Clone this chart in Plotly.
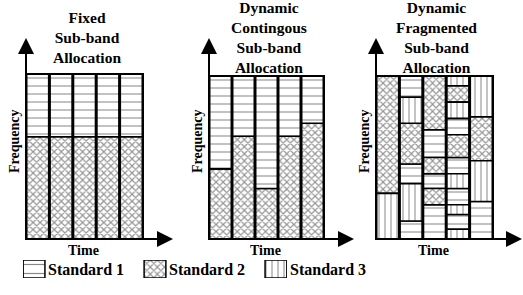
import plotly.graph_objects as go

W, H = 523, 295

# ---------------- data ----------------
time_slots = [1, 2, 3, 4, 5]
standards = ["Standard 1", "Standard 2", "Standard 3"]

# Fixed sub-band allocation (fraction of band, bottom -> top: Std2 then Std1)
fixed_std2 = [0.62, 0.62, 0.62, 0.62, 0.62]
fixed_std1 = [0.38, 0.38, 0.38, 0.38, 0.38]

# Dynamic contiguous allocation (bottom Std2, top Std1)
contig_std2 = [0.43, 0.63, 0.31, 0.63, 0.71]
contig_std1 = [0.57, 0.37, 0.69, 0.37, 0.29]

# Dynamic fragmented allocation: per time slot, standards bottom -> top and bandwidths
frag_t1_std = [3, 2]
frag_t1_bw = [0.28, 0.72]
frag_t2_std = [1, 3, 1, 2, 3, 1]
frag_t2_bw = [0.11, 0.23, 0.12, 0.25, 0.16, 0.13]
frag_t3_std = [1, 2, 1, 2, 1, 2]
frag_t3_bw = [0.21, 0.10, 0.09, 0.10, 0.17, 0.33]
frag_t4_std = [3, 1, 3, 1, 3, 1, 2, 1, 3, 2, 3]
frag_t4_bw = [0.06, 0.09, 0.06, 0.10, 0.09, 0.10, 0.14, 0.10, 0.10, 0.10, 0.06]
frag_t5_std = [1, 3, 2, 3]
frag_t5_bw = [0.23, 0.25, 0.27, 0.25]

panel_titles = ["Fixed<br>Sub-band<br>Allocation",
                "Dynamic<br>Contingous<br>Sub-band<br>Allocation",
                "Dynamic<br>Fragmented<br>Sub-band<br>Allocation"]
x_label = "Time"
y_label = "Frequency"

# ---------------- styles ----------------
FONT = "Times New Roman, Liberation Serif, Tinos, DejaVu Serif, serif"
patterns = {
    1: dict(shape="-", size=8, solidity=0.13, fgcolor="#111111", bgcolor="white"),
    2: dict(shape="x", size=5, solidity=0.42, fgcolor="#2a2a2a", bgcolor="white"),
    3: dict(shape="|", size=6, solidity=0.17, fgcolor="#111111", bgcolor="white"),
}


def px(x):
    return x / W


def py(y):
    return 1 - y / H


def fnt(size):
    return dict(family=FONT, size=size, color="black", weight="bold")


# panel boxes in pixels: (left, right, top, bottom)
boxes = [(26, 143, 74, 239), (209, 324, 76, 239), (376, 493, 76, 239)]

fig = go.Figure()


def add_segments(panel_idx, std, xs, bases, ys):
    ax_s = "" if panel_idx == 0 else str(panel_idx + 1)
    fig.add_trace(go.Bar(
        x=xs, y=ys, base=bases, width=0.94,
        xaxis="x" + ax_s, yaxis="y" + ax_s,
        marker=dict(color="white", pattern=patterns[std],
                    line=dict(color="black", width=1.6)),
        name=standards[std - 1], showlegend=False, hoverinfo="skip",
    ))


# panel 1
add_segments(0, 2, time_slots, [0] * 5, fixed_std2)
add_segments(0, 1, time_slots, fixed_std2, fixed_std1)
# panel 2
add_segments(1, 2, time_slots, [0] * 5, contig_std2)
add_segments(1, 1, time_slots, contig_std2, contig_std1)
# panel 3
frag_std = [frag_t1_std, frag_t2_std, frag_t3_std, frag_t4_std, frag_t5_std]
frag_bw = [frag_t1_bw, frag_t2_bw, frag_t3_bw, frag_t4_bw, frag_t5_bw]
for s in (1, 2, 3):
    xs, bs, ys = [], [], []
    for t, stds, bws in zip(time_slots, frag_std, frag_bw):
        acc = 0.0
        for st, bw in zip(stds, bws):
            if st == s:
                xs.append(t)
                bs.append(acc)
                ys.append(bw)
            acc += bw
    add_segments(2, s, xs, bs, ys)

# legend icons on a small axis
for i, s in enumerate((1, 2, 3)):
    pat = dict(patterns[s])
    if s == 1:
        pat["size"] = 9
    fig.add_trace(go.Bar(
        x=[i], y=[1], base=[0], width=0.18, xaxis="x4", yaxis="y4",
        marker=dict(color="white", pattern=pat, line=dict(color="black", width=1.5)),
        showlegend=False, hoverinfo="skip",
    ))

layout = dict(
    width=W, height=H, margin=dict(l=0, r=0, t=0, b=0),
    paper_bgcolor="white", plot_bgcolor="white",
    barmode="overlay", bargap=0, showlegend=False,
    font=fnt(14),
)
hidden = dict(visible=False, showgrid=False, zeroline=False, fixedrange=True)
shapes = []
annotations = []
for k, (l, r, t, b) in enumerate(boxes):
    s = "" if k == 0 else str(k + 1)
    layout["xaxis" + s] = dict(hidden, domain=[px(l), px(r)], range=[0.5, 5.5], anchor="y" + s)
    layout["yaxis" + s] = dict(hidden, domain=[py(b), py(t)], range=[0, 1], anchor="x" + s)
    xr, yr = "x" + s + " domain", "y" + s + " domain"
    shapes.append(dict(type="rect", xref=xr, yref=yr, x0=0, x1=1, y0=0, y1=1,
                       fillcolor="black", line=dict(width=0), layer="below"))
    shapes.append(dict(type="rect", xref=xr, yref=yr, x0=0, x1=1, y0=0, y1=1,
                       line=dict(color="black", width=2), layer="above"))
    tip_x = r + 30
    annotations.append(dict(x=px(l), y=py(38), xref="paper", yref="paper", text="",
                            showarrow=True, ax=0, ay=b - 38, axref="pixel", ayref="pixel",
                            arrowhead=2, arrowsize=1.6, arrowwidth=2, arrowcolor="black"))
    annotations.append(dict(x=px(tip_x), y=py(b), xref="paper", yref="paper", text="",
                            showarrow=True, ax=-(tip_x - l), ay=0, axref="pixel", ayref="pixel",
                            arrowhead=2, arrowsize=1.6, arrowwidth=2, arrowcolor="black"))
    cx = (l + r) / 2
    annotations.append(dict(x=px(cx + 2), y=py(37), xref="paper", yref="paper",
                            text=panel_titles[k], showarrow=False,
                            font=fnt(15.5), yanchor="middle", xanchor="center"))
    annotations.append(dict(x=px(cx - 1), y=py(250), xref="paper", yref="paper",
                            text=x_label, showarrow=False,
                            font=fnt(14), yanchor="middle", xanchor="center"))
    annotations.append(dict(x=px(l - 12), y=py(141), xref="paper", yref="paper",
                            text=y_label, showarrow=False, textangle=-90,
                            font=fnt(14), yanchor="middle", xanchor="center"))

layout["xaxis4"] = dict(hidden, domain=[px(23), px(287)], range=[-0.0913, 2.0913], anchor="y4")
layout["yaxis4"] = dict(hidden, domain=[py(278), py(260)], range=[0, 1], anchor="x4")
for i, name in enumerate(standards):
    annotations.append(dict(x=i + 0.09, y=0.5, xref="x4", yref="y4", xshift=1,
                            text=name, showarrow=False,
                            font=fnt(16), xanchor="left", yanchor="middle"))

layout["shapes"] = shapes
layout["annotations"] = annotations
fig.update_layout(**layout)
# remove the default 8px page margin so the figure fills the 523x295 window exactly
fig.write_html("out.html", config={"displayModeBar": False, "staticPlot": True},
               post_script="document.body.style.margin='0';document.body.style.overflow='hidden';")
